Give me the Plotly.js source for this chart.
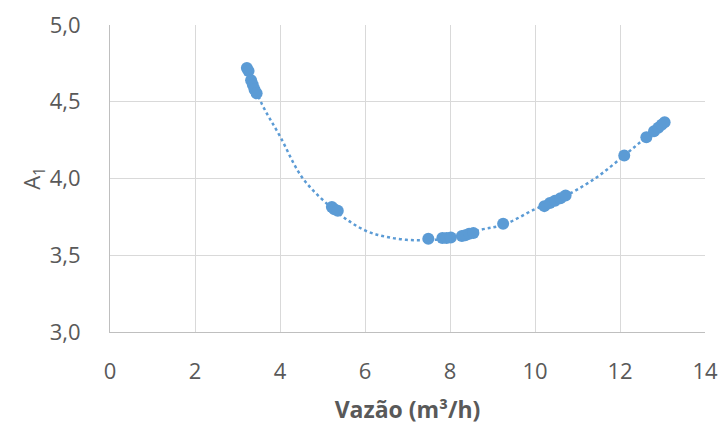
<!DOCTYPE html>
<html>
<head>
<meta charset="utf-8">
<script src="https://cdn.plot.ly/plotly-3.0.1.min.js"></script>
<style>html,body{margin:0;padding:0;background:#fff;}#chart{width:722px;height:428px;}</style>
</head>
<body>
<div id="chart"></div>
<script>
// Measured points: flow rate (m3/h) and A1
const vazao = [3.22, 3.26, 3.32, 3.36, 3.40, 3.45,
               5.22, 5.28, 5.36,
               7.49, 7.82, 7.92, 8.02,
               8.28, 8.36, 8.45, 8.55,
               9.25,
               10.22, 10.35, 10.47, 10.60, 10.72,
               12.10, 12.62, 12.80, 12.90, 12.98, 13.05];
const a1 = [4.72, 4.70, 4.64, 4.61, 4.58, 4.555,
            3.815, 3.80, 3.79,
            3.608, 3.612, 3.612, 3.615,
            3.625, 3.63, 3.64, 3.645,
            3.705,
            3.82, 3.84, 3.855, 3.872, 3.89,
            4.15, 4.268, 4.308, 4.33, 4.35, 4.366];
// Trendline
const trendX = [3.22, 3.57, 4.0, 4.54, 5.3, 6.0, 6.59, 7.25, 7.9, 8.7, 9.27, 10.0, 10.5, 11.41, 12.1, 12.6, 13.05];
const trendY = [4.715, 4.487, 4.275, 4.0, 3.79, 3.662, 3.615, 3.597, 3.61, 3.665, 3.70, 3.80, 3.855, 4.0, 4.15, 4.265, 4.365];
const xTicks = [0, 2, 4, 6, 8, 10, 12, 14];
const yTicks = [3.0, 3.5, 4.0, 4.5, 5.0];

const blue = '#5B9BD5';
const traces = [
  {x: trendX, y: trendY, mode: 'lines', type: 'scatter',
   line: {color: blue, width: 2.5, dash: 'dot', shape: 'spline'}, hoverinfo: 'skip'},
  {x: vazao, y: a1, mode: 'markers', type: 'scatter',
   marker: {color: blue, size: 12}}
];
const fontFam = 'Open Sans, Liberation Sans, sans-serif';
const layout = {
  width: 722, height: 428,
  margin: {l: 110, r: 17, t: 25, b: 96},
  paper_bgcolor: '#fff', plot_bgcolor: '#fff',
  showlegend: false,
  separators: ',.',
  font: {family: fontFam, color: '#595959', size: 22},
  xaxis: {
    range: [0, 14], tickvals: xTicks, ticktext: xTicks.map(String),
    showgrid: true, gridcolor: '#d9d9d9', gridwidth: 1,
    showline: true, linecolor: '#bfbfbf', linewidth: 1,
    zeroline: false, ticks: '', ticklabelstandoff: 20,
    tickfont: {size: 22, color: '#595959'},
    title: {text: 'Vazão (m³/h)', font: {size: 23, color: '#595959', family: fontFam, weight: 'bold'}, standoff: 17}
  },
  yaxis: {
    range: [3.0, 5.0], tickvals: yTicks, tickformat: '.1f',
    showgrid: true, gridcolor: '#d9d9d9', gridwidth: 1,
    showline: true, linecolor: '#bfbfbf', linewidth: 1,
    zeroline: false, ticks: '', ticklabelstandoff: 24,
    tickfont: {size: 22, color: '#595959'},
    title: {text: 'A<sub>1</sub>', font: {size: 22, color: '#595959', family: fontFam}, standoff: 2}
  }
};
Plotly.newPlot('chart', traces, layout, {staticPlot: true, displayModeBar: false});
</script>
</body>
</html>
